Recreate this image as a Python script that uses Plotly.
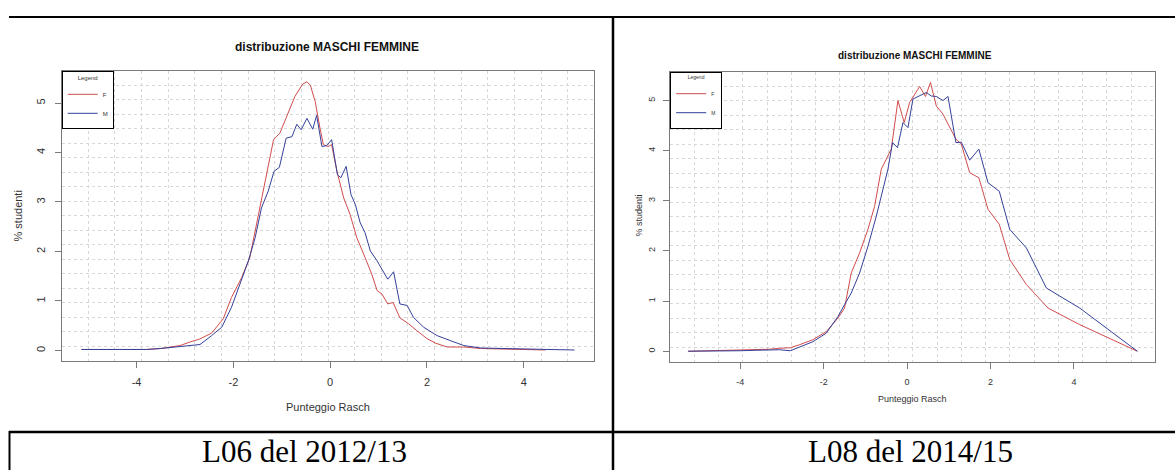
import plotly.graph_objects as go

# ---------------- data ----------------
# Left chart: L06 del 2012/13
l06_f_x = [-5.14, -4.6, -4.2, -3.8, -3.5, -3.3, -3.1, -2.9, -2.7, -2.45, -2.21, -2.04, -1.83, -1.66,
           -1.52, -1.42, -1.28, -1.17, -1.04, -0.86, -0.73, -0.57, -0.48, -0.41, -0.31, -0.21, -0.14,
           -0.04, 0.03, 0.14, 0.28, 0.41, 0.55, 0.72, 0.86, 0.97, 1.07, 1.19, 1.30, 1.44, 1.62, 1.79,
           2.00, 2.17, 2.42, 2.76, 3.11, 3.5, 4.0, 4.45]
l06_f_y = [0.02, 0.02, 0.01, 0.02, 0.04, 0.07, 0.10, 0.17, 0.23, 0.35, 0.64, 1.07, 1.47, 1.88,
           2.55, 3.02, 3.69, 4.26, 4.39, 4.83, 5.13, 5.38, 5.43, 5.36, 5.03, 4.49, 4.16,
           4.12, 4.16, 3.62, 3.08, 2.75, 2.28, 1.88, 1.54, 1.21, 1.14, 0.94, 0.97, 0.66, 0.54, 0.40,
           0.24, 0.15, 0.07, 0.07, 0.04, 0.03, 0.02, 0.01]

l06_m_x = [-5.14, -4.6, -4.2, -3.8, -3.5, -3.3, -3.0, -2.69, -2.45, -2.24, -2.04, -1.86, -1.69, -1.55,
           -1.42, -1.28, -1.16, -1.05, -0.91, -0.79, -0.69, -0.60, -0.48, -0.36, -0.28, -0.17, -0.07,
           0.03, 0.15, 0.22, 0.33, 0.43, 0.52, 0.62, 0.72, 0.83, 0.97, 1.07, 1.19, 1.31, 1.44, 1.59,
           1.72, 1.93, 2.21, 2.48, 2.76, 3.11, 3.5, 4.0, 4.5, 5.05]
l06_m_y = [0.02, 0.02, 0.01, 0.02, 0.04, 0.06, 0.09, 0.12, 0.30, 0.47, 0.87, 1.34, 1.81, 2.28,
           2.88, 3.22, 3.62, 3.70, 4.29, 4.32, 4.57, 4.46, 4.69, 4.47, 4.75, 4.12, 4.14,
           4.26, 3.55, 3.49, 3.72, 3.15, 2.95, 2.58, 2.38, 2.01, 1.81, 1.64, 1.44, 1.59, 0.94, 0.91,
           0.67, 0.47, 0.30, 0.20, 0.10, 0.05, 0.04, 0.02, 0.02, 0.01]

# Right chart: L08 del 2014/15
l08_f_x = [-5.25, -4.8, -4.4, -4.0, -3.6, -3.3, -3.06, -2.8, -2.58, -2.26, -1.94, -1.66, -1.50, -1.34,
           -1.14, -0.94, -0.78, -0.62, -0.50, -0.38, -0.22, -0.07, 0.06, 0.18, 0.30, 0.44, 0.56,
           0.70, 0.86, 1.0, 1.17, 1.30, 1.50, 1.72, 1.94, 2.21, 2.46, 2.86, 3.38, 4.14, 5.52]
l08_f_y = [0.0, 0.01, 0.02, 0.02, 0.03, 0.04, 0.06, 0.07, 0.13, 0.23, 0.39, 0.66, 0.86, 1.56,
           1.96, 2.43, 2.89, 3.63, 3.83, 4.03, 5.00, 4.56, 4.96, 5.13, 5.28, 5.08, 5.36,
           4.89, 4.73, 4.50, 4.23, 4.13, 3.56, 3.46, 2.83, 2.53, 1.83, 1.33, 0.86, 0.53, 0.0]

l08_m_x = [-5.25, -4.8, -4.4, -4.0, -3.6, -3.3, -3.06, -2.8, -2.58, -2.26, -1.94, -1.66, -1.50, -1.34,
           -1.14, -0.94, -0.74, -0.58, -0.46, -0.35, -0.23, -0.10, 0.02, 0.14, 0.30, 0.46, 0.58,
           0.70, 0.86, 0.98, 1.17, 1.30, 1.50, 1.72, 1.94, 2.21, 2.46, 2.86, 3.34, 4.14, 5.52]
l08_m_y = [0.0, 0.0, 0.01, 0.01, 0.02, 0.03, 0.03, 0.01, 0.08, 0.19, 0.36, 0.69, 0.93, 1.16,
           1.56, 2.09, 2.69, 3.23, 3.63, 4.16, 4.06, 4.56, 4.46, 5.03, 5.09, 5.16, 5.09,
           5.08, 5.00, 5.08, 4.16, 4.17, 3.81, 4.03, 3.36, 3.19, 2.43, 2.06, 1.26, 0.86, 0.0]

x_ticks = [-4, -2, 0, 2, 4]
x_tick_labels = ["-4", "-2", "0", "2", "4"]
y_ticks = [0, 1, 2, 3, 4, 5]
y_tick_labels = ["0", "1", "2", "3", "4", "5"]
series_names = ["F", "M"]
chart_title = "distribuzione MASCHI FEMMINE"
x_title = "Punteggio Rasch"
y_title = "% studenti"
captions = ["L06 del 2012/13", "L08 del 2014/15"]

# ---------------- styling ----------------
W, H = 1175, 470
RED = "#d04c4c"
BLUE = "#34409a"
BOX = "#7a7a7a"
GRID = "#d8d8d8"
TXT = "#333333"
FONT = "Liberation Sans, Arial, sans-serif"


def r_range(*arrs):
    lo = min(min(a) for a in arrs)
    hi = max(max(a) for a in arrs)
    pad = (hi - lo) * 0.04
    return [lo - pad, hi + pad]


def grid_vals(rng, n=20):
    step = (rng[1] - rng[0]) / n
    return [rng[0] + k * step for k in range(1, n)]


fig = go.Figure()

fig.add_trace(go.Scatter(x=l06_f_x, y=l06_f_y, mode="lines", name=series_names[0],
                         line=dict(color=RED, width=1), xaxis="x", yaxis="y", legend="legend"))
fig.add_trace(go.Scatter(x=l06_m_x, y=l06_m_y, mode="lines", name=series_names[1],
                         line=dict(color=BLUE, width=1), xaxis="x", yaxis="y", legend="legend"))
fig.add_trace(go.Scatter(x=l08_f_x, y=l08_f_y, mode="lines", name=series_names[0],
                         line=dict(color=RED, width=1), xaxis="x2", yaxis="y2", legend="legend2"))
fig.add_trace(go.Scatter(x=l08_m_x, y=l08_m_y, mode="lines", name=series_names[1],
                         line=dict(color=BLUE, width=1), xaxis="x2", yaxis="y2", legend="legend2"))

xr1 = r_range(l06_f_x, l06_m_x)
yr1 = r_range(l06_f_y, l06_m_y)
xr2 = r_range(l08_f_x, l08_m_x)
yr2 = r_range(l08_f_y, l08_m_y)


def px_x(p):
    return p / W


def px_y(p):
    return 1 - p / H


def axis(rng, vals, texts, dom, anchor, size, angle=0):
    return dict(
        domain=dom, anchor=anchor, range=rng, tickmode="array", tickvals=vals, ticktext=texts,
        showgrid=False, zeroline=False, showline=True, mirror=True,
        linecolor=BOX, linewidth=1, ticks="outside", ticklen=6, tickcolor=BOX, tickwidth=1,
        tickangle=angle, tickfont=dict(family=FONT, size=size, color=TXT),
        ticklabelstandoff=5,
        minor=dict(tickmode="array", tickvals=grid_vals(rng), showgrid=True,
                   gridcolor=GRID, griddash="dot", gridwidth=1, ticks=""),
    )


fig.update_layout(
    width=W, height=H, margin=dict(l=0, r=0, t=0, b=0),
    paper_bgcolor="white", plot_bgcolor="white",
    xaxis=axis(xr1, x_ticks, x_tick_labels, [px_x(61.7), px_x(594.3)], "y", 11),
    yaxis=axis(yr1, y_ticks, y_tick_labels, [px_y(360.7), px_y(71)], "x", 11, -90),
    xaxis2=axis(xr2, x_ticks, x_tick_labels, [px_x(670.2), px_x(1155.3)], "y2", 9),
    yaxis2=axis(yr2, y_ticks, y_tick_labels, [px_y(362), px_y(71.7)], "x2", 9, -90),
    legend=dict(x=px_x(61.7), y=px_y(71), xanchor="left", yanchor="top",
                bordercolor="black", borderwidth=1, bgcolor="white",
                font=dict(family=FONT, size=6, color=TXT), itemwidth=30, tracegroupgap=0,
                title=dict(text="Legend", side="top center", font=dict(family=FONT, size=6, color=TXT))),
    legend2=dict(x=px_x(670.2), y=px_y(71.7), xanchor="left", yanchor="top",
                 bordercolor="black", borderwidth=1, bgcolor="white",
                 font=dict(family=FONT, size=5, color=TXT), itemwidth=30, tracegroupgap=0,
                 title=dict(text="Legend", side="top center", font=dict(family=FONT, size=5, color=TXT))),
    showlegend=True,
)

ann = []
# chart titles
ann.append(dict(text="<b>" + chart_title + "</b>", x=px_x(327), y=px_y(46.7), font=dict(size=12, color="#111")))
ann.append(dict(text="<b>" + chart_title + "</b>", x=px_x(914.6), y=px_y(55), font=dict(size=10, color="#111")))
# x titles
ann.append(dict(text=x_title, x=px_x(328), y=px_y(406.7), font=dict(size=11, color=TXT)))
ann.append(dict(text=x_title, x=px_x(912.7), y=px_y(399.3), font=dict(size=9, color=TXT)))
# y titles
ann.append(dict(text=y_title, x=px_x(17.5), y=px_y(216), textangle=-90, font=dict(size=11, color=TXT)))
ann.append(dict(text=y_title, x=px_x(638.5), y=px_y(216), textangle=-90, font=dict(size=9, color=TXT)))
for a in ann:
    a.update(xref="paper", yref="paper", showarrow=False, xanchor="center", yanchor="middle")
    a["font"]["family"] = FONT
# captions
ann.append(dict(text=captions[0], x=px_x(304), y=px_y(451), xref="paper", yref="paper",
                showarrow=False, xanchor="center", yanchor="middle",
                font=dict(family="Liberation Serif, Times New Roman, serif", size=31, color="black")))
ann.append(dict(text=captions[1], x=px_x(910.7), y=px_y(451), xref="paper", yref="paper",
                showarrow=False, xanchor="center", yanchor="middle",
                font=dict(family="Liberation Serif, Times New Roman, serif", size=31, color="black")))
fig.update_layout(annotations=ann)

# table borders
shapes = [
    dict(type="line", xref="paper", yref="paper", x0=px_x(9), x1=1, y0=px_y(17), y1=px_y(17),
         line=dict(color="black", width=2)),
    dict(type="line", xref="paper", yref="paper", x0=px_x(9), x1=1, y0=px_y(432), y1=px_y(432),
         line=dict(color="black", width=2.5)),
    dict(type="line", xref="paper", yref="paper", x0=px_x(613), x1=px_x(613), y0=0, y1=px_y(16),
         line=dict(color="black", width=2.5)),
    dict(type="line", xref="paper", yref="paper", x0=px_x(9.5), x1=px_x(9.5), y0=0, y1=px_y(431),
         line=dict(color="black", width=2)),
]
fig.update_layout(shapes=shapes)

fig.write_html("out.html", config={"displayModeBar": False},
               post_script="document.body.style.margin='0px';document.body.style.overflow='hidden';")
